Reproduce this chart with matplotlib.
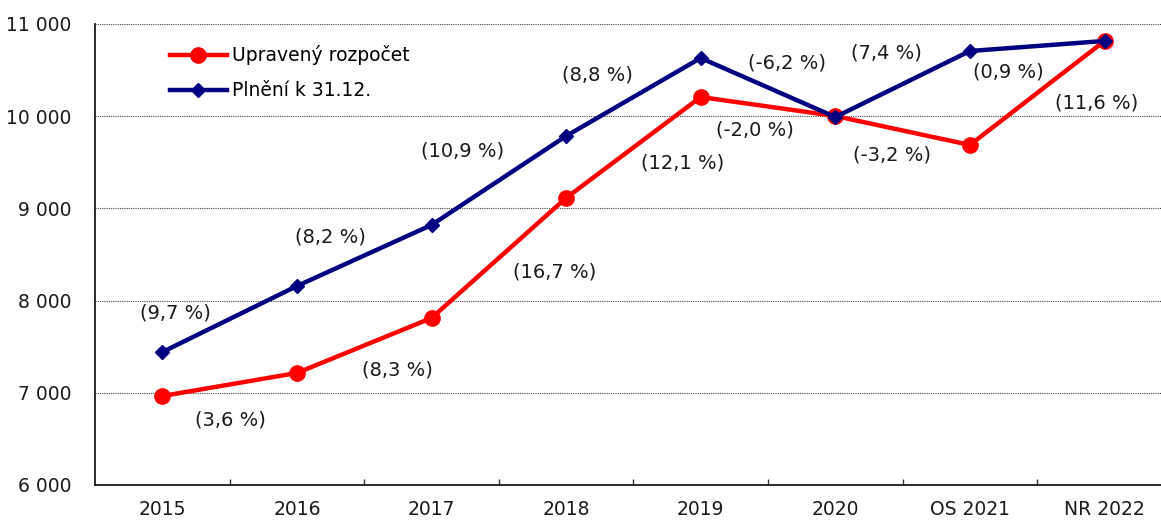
import matplotlib
matplotlib.use("Agg")
import matplotlib.pyplot as plt
from matplotlib.ticker import FuncFormatter, FixedLocator

categories = ["2015", "2016", "2017", "2018", "2019", "2020", "OS 2021", "NR 2022"]
upraveny = [6965, 7215, 7811, 9113, 10208, 10002, 9688, 10816]
plneni = [7442, 8158, 8820, 9785, 10631, 9991, 10707, 10816]
upraveny_pct = ["(3,6 %)", "(8,3 %)", "(16,7 %)", "(12,1 %)", "(-2,0 %)", "(-3,2 %)", "(11,6 %)"]
plneni_pct = ["(9,7 %)", "(8,2 %)", "(10,9 %)", "(8,8 %)", "(-6,2 %)", "(7,4 %)", "(0,9 %)"]

# label placement (layout, in data coordinates)
upr_lbl_x = [0.503, 1.744, 2.918, 3.868, 4.403, 5.421, 6.944]
upr_lbl_y = [6705, 7247, 8310, 9492, 9850, 9579, 10143]
pln_lbl_x = [0.094, 1.246, 2.234, 3.23, 4.641, 5.377, 6.283]
pln_lbl_y = [7866, 8690, 9623, 10447, 10577, 10685, 10479]

plt.rcParams['font.family'] = ['DejaVu Sans']
FS = 13.5
FS_PCT = 14

fig = plt.figure(figsize=(11.61, 5.23), dpi=100)
L, B = 95 / 1161, (523 - 485) / 523
W, H = (134.6 * 8) / 1161, (485 - 24) / 523
ax = fig.add_axes([L, B, W, H])

x = list(range(len(categories)))
ax.plot(x, upraveny, color="#ff0000", lw=3.2, marker="o", ms=11, label="Upravený rozpočet", zorder=3)
ax.plot(x, plneni, color="#000080", lw=3.2, marker="D", ms=7.5, label="Plnění k 31.12.", zorder=4)

for t, xx, yy in zip(upraveny_pct, upr_lbl_x, upr_lbl_y):
    ax.text(xx, yy, t, ha="center", va="center", fontsize=FS_PCT, color="#1a1a1a")
for t, xx, yy in zip(plneni_pct, pln_lbl_x, pln_lbl_y):
    ax.text(xx, yy, t, ha="center", va="center", fontsize=FS_PCT, color="#1a1a1a")

ax.set_xlim(-0.5, 7.5)
ax.set_ylim(6000, 11000)
ax.set_yticks([6000, 7000, 8000, 9000, 10000, 11000])
ax.yaxis.set_major_formatter(FuncFormatter(lambda v, p: f"{int(v):,}".replace(",", " ")))
ax.set_xticks(x)
ax.set_xticklabels(categories)
ax.xaxis.set_minor_locator(FixedLocator([i + 0.5 for i in range(7)]))
ax.tick_params(axis="x", which="major", length=0, pad=11, labelsize=FS)
ax.tick_params(axis="x", which="minor", direction="in", length=4.5, width=1, color="#333333")
ax.tick_params(axis="y", length=0, pad=17, labelsize=FS)
for lbl in ax.get_xticklabels() + ax.get_yticklabels():
    lbl.set_color("#1a1a1a")

ax.grid(axis="y", linestyle=(0, (1, 1)), color="#444444", lw=0.8)
ax.set_axisbelow(True)
for s in ["top", "right"]:
    ax.spines[s].set_visible(False)
for s in ["left", "bottom"]:
    ax.spines[s].set_linewidth(1.3)
    ax.spines[s].set_color("#1a1a1a")

leg = ax.legend(loc="upper left", bbox_to_anchor=(0.063, 0.97), frameon=False, fontsize=FS,
                handlelength=3.0, handletextpad=0.3, labelspacing=0.85, borderaxespad=0)

fig.savefig("out.png", dpi=100)
